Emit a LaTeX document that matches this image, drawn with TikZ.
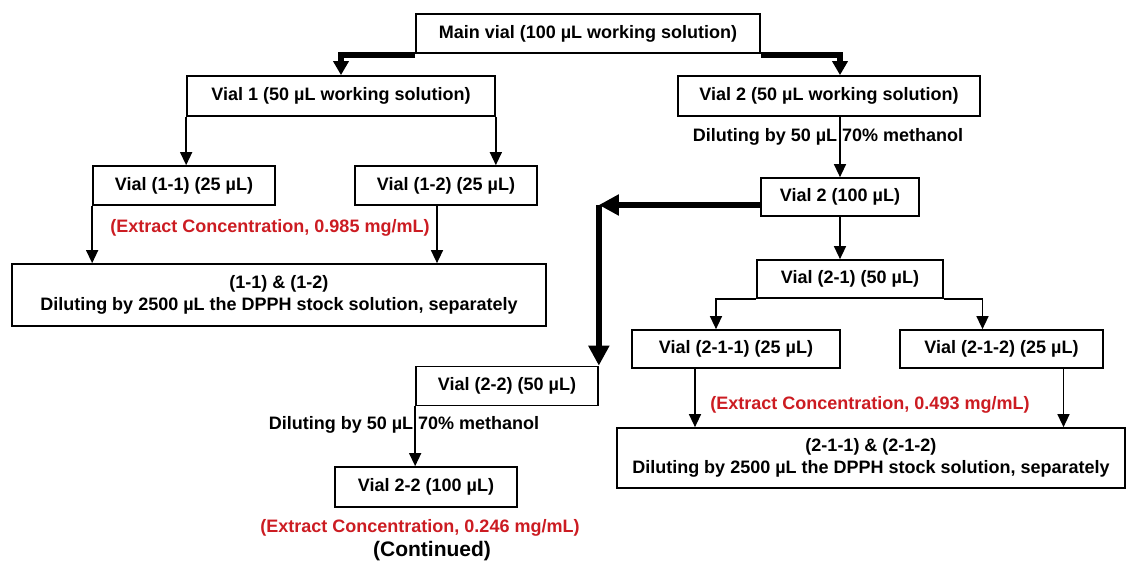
\documentclass[tikz,border=0pt]{standalone}
\usepackage{fontspec}
\setmainfont{Liberation Sans}
\usepackage{xcolor}
\usepackage{tikz}
\usetikzlibrary{arrows.meta,positioning}
\definecolor{concred}{RGB}{204,28,34}

\begin{document}
\begin{tikzpicture}[x=1pt, y=-1pt, font=\fontsize{18}{22}\selectfont\bfseries]
    % Define styles
    \tikzstyle{vial} = [rectangle, draw=black, line width=1.7pt, minimum height=39pt, inner sep=0pt, text centered]
    \tikzstyle{result} = [rectangle, draw=black, line width=1.7pt, minimum height=61pt, inner sep=0pt, align=center]
    \tikzstyle{note} = [inner sep=0pt]
    \tikzstyle{conc} = [inner sep=0pt, text=concred]
    \tikzstyle{arrow} = [line width=1.4pt, -{Triangle[length=13pt,width=12pt]}]
    \tikzstyle{mainarrow} = [line width=6pt, -{Triangle[length=14pt,width=15pt]}]
    \tikzstyle{bigarrow} = [line width=6.5pt, -{Triangle[length=20pt,width=20pt]}]

    \fill[white] (0,0) rectangle (1130,561);
    \useasboundingbox (0,0) rectangle (1130,561);

    % Nodes
    \node (main) [vial, minimum width=344pt] at (588,33.5) {Main vial (100 µL working solution)};

    \node (vial1) [vial, minimum width=308pt, minimum height=40pt] at (341,96) {Vial 1 (50 µL working solution)};
    \node (vial2) [vial, minimum width=302pt, minimum height=40pt] at (829,96) {Vial 2 (50 µL working solution)};

    \node (vial11) [vial, minimum width=182pt] at (184,185.5) {Vial (1-1) (25 µL)};
    \node (vial12) [vial, minimum width=182pt] at (446,185.5) {Vial (1-2) (25 µL)};
    \node (conc1) [conc] at (270,228) {(Extract Concentration, 0.985 mg/mL)};
    \node (res1) [result, minimum width=534pt, minimum height=62pt] at (279,295) {(1-1) \& (1-2)\\Diluting by 2500 µL the DPPH stock solution, separately};

    \node (dil1) [note] at (828,137) {Diluting by 50 µL 70\% methanol};
    \node (vial2b) [vial, minimum width=158pt, minimum height=38pt] at (840,197) {Vial 2 (100 µL)};
    \node (vial21) [vial, minimum width=186pt, minimum height=38pt] at (850,279) {Vial (2-1) (50 µL)};
    \node (vial211) [vial, minimum width=208pt, minimum height=38pt] at (736,349) {Vial (2-1-1) (25 µL)};
    \node (vial212) [vial, minimum width=203pt, minimum height=38pt] at (1001.5,349) {Vial (2-1-2) (25 µL)};
    \node (conc2) [conc] at (870,405) {(Extract Concentration, 0.493 mg/mL)};
    \node (res2) [result, minimum width=508pt, minimum height=60pt] at (871,458) {(2-1-1) \& (2-1-2)\\Diluting by 2500 µL the DPPH stock solution, separately};

    \node (vial22) [vial, minimum width=182pt] at (507,386) {Vial (2-2) (50 µL)};
    \node (dil2) [note] at (404,425) {Diluting by 50 µL 70\% methanol};
    \node (vial22b) [vial, minimum width=182pt, minimum height=40pt] at (426,487) {Vial 2-2 (100 µL)};
    \node (conc3) [conc] at (420,528) {(Extract Concentration, 0.246 mg/mL)};
    \node (cont) [note, font=\fontsize{21}{24}\selectfont\bfseries] at (432,551) {(Continued)};

    % Arrows
    \draw [mainarrow] ([yshift=-1pt]main.south west) -| (vial1.north);
    \draw [mainarrow] ([yshift=-1pt]main.south east) -| (vial2b.north |- vial2.north);

    \draw [arrow] (vial1.south west) -- (vial1.south west |- vial11.north);
    \draw [arrow] (vial1.south east) -- (vial1.south east |- vial12.north);
    \draw [arrow] (vial11.south west) -- (vial11.south west |- res1.north);
    \draw [arrow] ([xshift=-9pt]vial12.south) -- ([xshift=-9pt]vial12.south |- res1.north);

    \draw [arrow] (vial2b.north |- vial2.south) -- (vial2b.north);
    \draw [arrow] (vial2b.south) -- (vial2b.south |- vial21.north);
    \draw [arrow] (vial21.south west) -| ([xshift=-20pt]vial211.north);
    \draw [arrow] (vial21.south east) -| ([xshift=-19pt]vial212.north);
    \draw [arrow] ([xshift=-41pt]vial211.south) -- ([xshift=-41pt]vial211.south |- res2.north);
    \draw [arrow] ([xshift=62pt]vial212.south) -- ([xshift=62pt]vial212.south |- res2.north);

    \draw [bigarrow] ([yshift=-8pt]vial2b.west) -- ([yshift=-8pt]vial2b.west -| vial22.north east);
    \draw [bigarrow] ([yshift=-8pt]vial2b.west -| vial22.north east) -- (vial22.north east);
    \draw [arrow] (vial22.south west) -- (vial22.south west |- vial22b.north);
\end{tikzpicture}
\end{document}
